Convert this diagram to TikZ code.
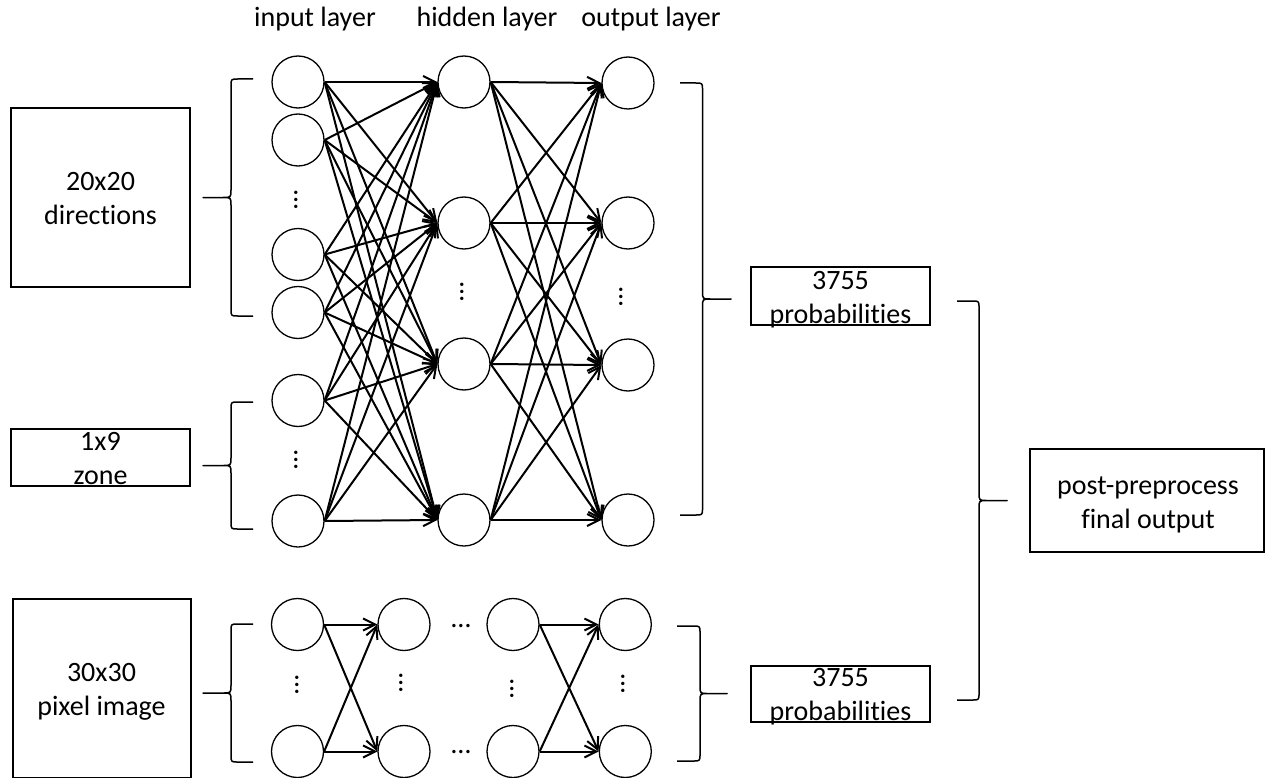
\documentclass[tikz,border=0pt]{standalone}
\usepackage{fontspec}
\setmainfont{Carlito}[Ligatures={CommonOff,ContextualOff},RawFeature={-liga;-clig;-dlig}]
\usetikzlibrary{arrows.meta}

% curly bracket: end x, spine x, tip x, top y, bottom y
\newcommand\curlybrace[5]{%
  \draw[bracket] (#1,#4) -- ({#2+7*sign(#1-#2)},#4) .. controls (#2,#4) .. (#2,{#4+7})
    -- (#2,{(#4+#5)/2-8}) .. controls (#2,{(#4+#5)/2}) .. ({#2+8*sign(#3-#2)},{(#4+#5)/2})
    -- (#3,{(#4+#5)/2}) -- ({#2+8*sign(#3-#2)},{(#4+#5)/2})
    .. controls (#2,{(#4+#5)/2}) .. (#2,{(#4+#5)/2+8}) -- (#2,{#5-7})
    .. controls (#2,#5) .. ({#2+7*sign(#1-#2)},#5) -- (#1,#5);}

\begin{document}
\begin{tikzpicture}[x=1pt,y=-1pt,
  neuron/.style={circle, draw, line width=1.3pt, minimum size=52pt, inner sep=0pt},
  box/.style={draw, line width=1.6pt, inner sep=0pt},
  lbl/.style={font=\fontsize{28}{34}\selectfont, align=center, inner sep=0pt},
  head/.style={font=\fontsize{28}{34}\selectfont, inner sep=0pt, anchor=base},
  link/.style={line width=2pt, -{Straight Barb[length=12pt,width=12pt]}},
  bracket/.style={line width=1.5pt, line join=round},
  hdots/.style={font=\fontsize{28}{34}\selectfont, inner sep=0pt},
  vdots/.style={hdots, rotate=90}
]
\useasboundingbox (0,0) rectangle (1265,778);

% layer headings
\node[head] (tin)  at (315,27) {input layer};
\node[head] (thid) at (487,27) {hidden layer};
\node[head] (tout) at (651,27) {output layer};

% input boxes
\node[box, minimum width=179pt, minimum height=179pt] (dir)  at (100.5,197.5) {};
\node[lbl] (dirt) at (100.5,198.7) {20x20\\directions};
\node[box, minimum width=179pt, minimum height=57pt] (zone) at (100.5,457.5) {};
\node[lbl] (zonet) at (100.5,459) {1x9\\zone};
\node[box, minimum width=178pt, minimum height=179pt] (pix) at (102,688.5) {};
\node[lbl] (pixt) at (101.5,691.6) {30x30\\pixel image};

% first network: input, hidden, output layers
\foreach \n/\y in {1/82,2/140,3/254.5,4/312.5,5/400.5,6/521}
  \node[neuron] (i\n) at (298,\y) {};
\foreach \n/\y in {1/82,2/223,3/364,4/520}
  \node[neuron] (h\n) at (464,\y) {};
\foreach \n/\y in {1/83,2/223,3/365,4/520}
  \node[neuron] (o\n) at (628,\y) {};

\node[vdots] (di1) at (296,200) {…};
\node[vdots] (di2) at (296,460) {…};
\node[vdots] (dh)  at (462,292) {…};
\node[vdots] (do)  at (621,297) {…};

\foreach \a in {1,...,6}
  \foreach \b in {1,...,4}
    \draw[link] (i\a.east) -- (h\b.west);
\foreach \a in {1,...,4}
  \foreach \b in {1,...,4}
    \draw[link] (h\a.east) -- (o\b.west);

% second network
\foreach \c/\x in {1/297.5,2/404,3/513,4/625.3} {
  \node[neuron] (p\c t) at (\x,624.5) {};
  \node[neuron] (p\c b) at (\x,751.5) {};
}
\node[vdots] (dp1) at (297,685) {…};
\node[vdots] (dp2) at (401,683) {…};
\node[vdots] (dp3) at (512,689) {…};
\node[vdots] (dp4) at (623,684) {…};
\node[hdots] (dpt) at (461,626) {…};
\node[hdots] (dpb) at (461,752) {…};

\foreach \s/\t in {1/2,3/4}
  \foreach \u in {t,b}
    \foreach \v in {t,b}
      \draw[link] (p\s\u.east) -- (p\t\v.west);

% result boxes
\node[box, minimum width=179pt, minimum height=58pt] (prob1) at (840.5,296) {};
\node[lbl] (prob1t) at (840.5,300.1) {3755\\probabilities};
\node[box, minimum width=179pt, minimum height=56pt] (prob2) at (840.5,694) {};
\node[lbl] (prob2t) at (840.5,697.1) {3755\\probabilities};
\node[box, minimum width=234pt, minimum height=103pt] (final) at (1147,500.5) {};
\node[lbl] (finalt) at (1148,504.7) {post-preprocess\\final output};

% brackets
\curlybrace{253}{231}{203}{79}{316}
\curlybrace{253}{231}{203}{402}{529}
\curlybrace{253}{231}{203}{624}{762}
\curlybrace{680}{702.5}{731}{83}{515}
\curlybrace{677}{700}{727}{626}{761}
\curlybrace{957}{979}{1007}{301}{700}
\end{tikzpicture}
\end{document}
